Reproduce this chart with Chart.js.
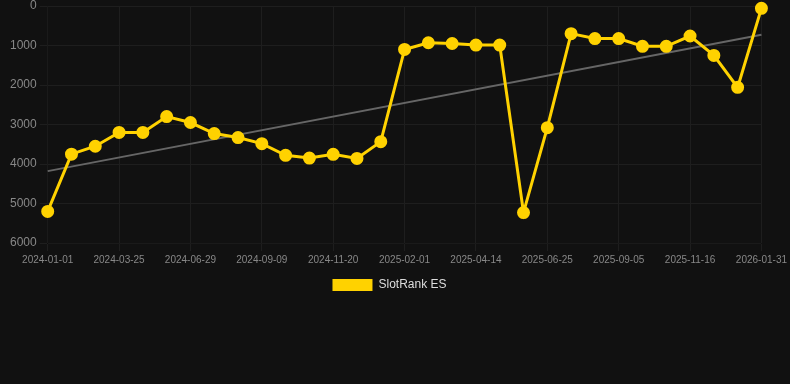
<!DOCTYPE html>
<html>
<head>
<meta charset="utf-8">
<script src="https://cdn.jsdelivr.net/npm/chart.js@4/dist/chart.umd.min.js"></script>
<style>
  html, body { margin: 0; padding: 0; background: #111111; }
  #wrap { position: relative; width: 790px; height: 301px; }
</style>
</head>
<body>
<div id="wrap"><canvas id="rankChart"></canvas></div>
<script>
// ─── Data ────────────────────────────────────────────────────────
const dates = [
  "2024-01-01", "2024-01-29", "2024-02-26", "2024-03-25", "2024-04-27",
  "2024-05-29", "2024-06-29", "2024-07-23", "2024-08-16", "2024-09-09",
  "2024-10-03", "2024-10-27", "2024-11-20", "2024-12-15", "2025-01-08",
  "2025-02-01", "2025-02-25", "2025-03-21", "2025-04-14", "2025-05-08",
  "2025-06-01", "2025-06-25", "2025-07-19", "2025-08-12", "2025-09-05",
  "2025-09-29", "2025-10-23", "2025-11-16", "2025-12-10", "2026-01-03",
  "2026-01-31",
];

const rankES = [
  5200, 3750, 3550, 3200, 3200, 2800, 2950, 3230, 3330, 3485,
  3780, 3850, 3755, 3860, 3435, 1100, 930, 950, 990, 990,
  5230, 3080, 700, 825, 825, 1020, 1020, 760, 1250, 2060,
  60,
];

// trend line: only the two end values
const trendStart = 4180;
const trendEnd = 730;

const yTicks = [0, 1000, 2000, 3000, 4000, 5000, 6000];

// ─── Chart ───────────────────────────────────────────────────────
const trend = dates.map((d, i) =>
  i === 0 ? trendStart : i === dates.length - 1 ? trendEnd : null
);

const FONT = "Arial, 'Liberation Sans', sans-serif";

const ctx = document.getElementById("rankChart").getContext("2d");
new Chart(ctx, {
  type: "line",
  data: {
    labels: dates,
    datasets: [
      {
        label: "SlotRank ES",
        data: rankES,
        borderColor: "#ffd200",
        backgroundColor: "#ffd200",
        borderWidth: 3,
        pointRadius: 5,
        pointHoverRadius: 6,
        tension: 0,
        clip: false,
        order: 1,
      },
      {
        label: "trend",
        data: trend,
        borderColor: "#666666",
        borderWidth: 2,
        pointRadius: 0,
        spanGaps: true,
        order: 2,
      },
    ],
  },
  options: {
    responsive: true,
    maintainAspectRatio: false,
    animation: false,
    layout: { autoPadding: false, padding: { left: 7, right: 18 } },
    plugins: {
      legend: {
        position: "bottom",
        labels: {
          color: "#dddddd",
          font: { family: FONT, size: 12 },
          boxWidth: 40,
          boxHeight: 12,
          filter: (item) => item.text !== "trend",
          generateLabels: (chart) =>
            Chart.defaults.plugins.legend.labels.generateLabels(chart).map(l => ({ ...l, lineWidth: 0 })),
        },
      },
      tooltip: { enabled: false },
    },
    scales: {
      x: {
        grid: { color: "#1e1e1e" },
        ticks: {
          color: "#888888",
          font: { family: FONT, size: 10 },
          maxRotation: 0,
          autoSkip: true,
          callback: function (v, i) { return i % 3 === 0 ? dates[i] : null; },
        },
      },
      y: {
        reverse: true,
        min: 0,
        max: 6000,
        afterBuildTicks: (axis) => { axis.ticks = yTicks.map(v => ({ value: v })); },
        grid: { color: "#1e1e1e" },
        ticks: {
          color: "#888888",
          font: { family: FONT, size: 12, lineHeight: 0.5 },
          callback: (v) => String(v),
        },
      },
      // empty spacer on the right so the plot ends where the reference does
      yPad: {
        position: "right",
        display: true,
        grid: { display: false },
        border: { display: false },
        ticks: { display: false },
        afterFit: (axis) => { axis.width = 10; },
      },
    },
  },
});
</script>
</body>
</html>
